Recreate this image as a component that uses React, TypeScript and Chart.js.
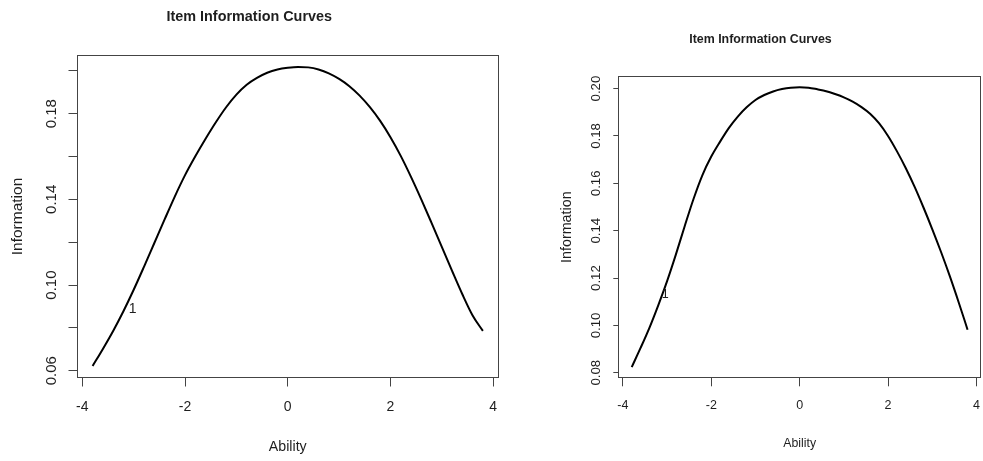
import React, { useEffect, useRef } from 'react';
import { Chart, registerables } from 'chart.js';

Chart.register(...registerables);

// ---------- data ----------
const ability = [
  -3.8, -3.6, -3.4, -3.2, -3.0, -2.8, -2.6, -2.4, -2.2, -2.0, -1.8, -1.6, -1.4,
  -1.2, -1.0, -0.8, -0.6, -0.4, -0.2, 0.0, 0.2, 0.4, 0.6, 0.8, 1.0, 1.2, 1.4,
  1.6, 1.8, 2.0, 2.2, 2.4, 2.6, 2.8, 3.0, 3.2, 3.4, 3.6, 3.8,
];

const informationLeft = [
  0.0622, 0.0702, 0.0786, 0.0878, 0.0978, 0.1085, 0.1195, 0.1305, 0.1413,
  0.1513, 0.1601, 0.1683, 0.1760, 0.1830, 0.1889, 0.1935, 0.1967, 0.1991,
  0.2006, 0.2014, 0.2018, 0.2016, 0.2006, 0.1988, 0.1962, 0.1928, 0.1884,
  0.1830, 0.1766, 0.1690, 0.1603, 0.1505, 0.1400, 0.1290, 0.1178, 0.1066,
  0.0957, 0.0858, 0.0786,
];

const informationRight = [
  0.0824, 0.0905, 0.0990, 0.1085, 0.1187, 0.1300, 0.1420, 0.1535, 0.1635,
  0.1713, 0.1776, 0.1834, 0.1882, 0.1921, 0.1952, 0.1973, 0.1988, 0.1998,
  0.2004, 0.2006, 0.2004, 0.1997, 0.1989, 0.1977, 0.1963, 0.1945, 0.1922,
  0.1893, 0.1853, 0.1800, 0.1736, 0.1665, 0.1586, 0.1499, 0.1407, 0.1310,
  0.1207, 0.1097, 0.0982,
];

const xTickValues = [-4, -2, 0, 2, 4];
const xTickLabels = ['-4', '-2', '0', '2', '4'];

const yTickValuesLeft = [0.06, 0.08, 0.1, 0.12, 0.14, 0.16, 0.18, 0.2];
const yTickLabelsLeft = ['0.06', '', '0.10', '', '0.14', '', '0.18', ''];

const yTickValuesRight = [0.08, 0.1, 0.12, 0.14, 0.16, 0.18, 0.2];
const yTickLabelsRight = ['0.08', '0.10', '0.12', '0.14', '0.16', '0.18', '0.20'];

const chartTitle = 'Item Information Curves';
const xAxisTitle = 'Ability';
const yAxisTitle = 'Information';

const itemNames = ['1'];
const itemLabelAnchorLeft = [-3.02, 0.0888];
const itemLabelAnchorRight = [-3.04, 0.1131];

// ---------- style ----------
const FONT = '"Liberation Sans", Arial, sans-serif';
const TEXT = '#1e1e1e';
const AXIS = '#444444';

const boxPlugin = {
  id: 'rbox',
  afterDraw(chart: any) {
    const { ctx, chartArea: a } = chart;
    ctx.save();
    ctx.strokeStyle = AXIS;
    ctx.lineWidth = 1;
    const l = Math.round(a.left) + 0.5;
    const t = Math.round(a.top) + 0.5;
    const r = Math.round(a.right) - 0.5;
    const b = Math.round(a.bottom) - 0.5;
    ctx.strokeRect(l, t, r - l, b - t);
    ctx.restore();
  },
};

const itemLabelPlugin = {
  id: 'itemLabel',
  afterDatasetsDraw(chart: any, _args: any, opts: any) {
    if (!opts || !opts.text) return;
    const { ctx, scales } = chart;
    const px = scales.x.getPixelForValue(opts.x);
    const py = scales.y.getPixelForValue(opts.y);
    ctx.save();
    ctx.fillStyle = opts.color;
    ctx.font = `${opts.size}px ${FONT}`;
    ctx.textAlign = 'center';
    ctx.textBaseline = 'middle';
    ctx.fillText(opts.text, px, py);
    ctx.restore();
  },
};

type Spec = {
  values: number[];
  yTicks: number[];
  yLabels: string[];
  anchor: number[];
  padRight: number;
  yAxisWidth: number;
  xAxisHeight: number;
  titleSize: number;
  titlePadTop: number;
  titlePadBottom: number;
  yTickSize: number;
  yTickLen: number;
  yTickPad: number;
  xTickSize: number;
  xTickLen: number;
  xTickPad: number;
  xTitleSize: number;
  xTitlePadBottom: number;
  yTitleSize: number;
  yTitlePadTop: number;
  labelSize: number;
};

function buildConfig(p: Spec): any {
  const xMin = Math.min(...ability);
  const xMax = Math.max(...ability);
  const yMin = Math.min(...p.values);
  const yMax = Math.max(...p.values);
  const xPad = (xMax - xMin) * 0.04;
  const yPad = (yMax - yMin) * 0.04;
  return {
    type: 'line',
    data: {
      datasets: [
        {
          data: ability.map((x, i) => ({ x, y: p.values[i] })),
          borderColor: '#000',
          borderWidth: 2,
          pointRadius: 0,
          fill: false,
          cubicInterpolationMode: 'monotone',
        },
      ],
    },
    options: {
      animation: false,
      responsive: false,
      events: [],
      layout: { padding: { left: 0, right: p.padRight, top: 0, bottom: 0 } },
      plugins: {
        legend: { display: false },
        tooltip: { enabled: false },
        title: {
          display: true,
          text: chartTitle,
          color: TEXT,
          font: { family: FONT, size: p.titleSize, weight: 'bold' },
          padding: { top: p.titlePadTop, bottom: p.titlePadBottom },
        },
        itemLabel: {
          text: itemNames[0],
          x: p.anchor[0],
          y: p.anchor[1],
          size: p.labelSize,
          color: TEXT,
        },
      },
      scales: {
        x: {
          type: 'linear',
          position: 'bottom',
          min: xMin - xPad,
          max: xMax + xPad,
          afterBuildTicks: (s: any) => {
            s.ticks = xTickValues.map((v) => ({ value: v }));
          },
          afterFit: (s: any) => {
            s.height = p.xAxisHeight;
          },
          grid: {
            drawOnChartArea: false,
            drawTicks: true,
            tickLength: p.xTickLen,
            color: AXIS,
            lineWidth: 1,
          },
          border: { display: false },
          ticks: {
            autoSkip: false,
            maxRotation: 0,
            minRotation: 0,
            padding: p.xTickPad,
            color: TEXT,
            font: { family: FONT, size: p.xTickSize },
            callback: (v: number) => {
              const i = xTickValues.indexOf(v);
              return i >= 0 ? xTickLabels[i] : '';
            },
          },
          title: {
            display: true,
            text: xAxisTitle,
            color: TEXT,
            font: { family: FONT, size: p.xTitleSize },
            padding: { top: 0, bottom: p.xTitlePadBottom },
          },
        },
        y: {
          type: 'linear',
          position: 'left',
          min: yMin - yPad,
          max: yMax + yPad,
          afterBuildTicks: (s: any) => {
            s.ticks = p.yTicks.map((v) => ({ value: v }));
          },
          afterFit: (s: any) => {
            s.width = p.yAxisWidth;
          },
          grid: {
            drawOnChartArea: false,
            drawTicks: true,
            tickLength: p.yTickLen,
            color: AXIS,
            lineWidth: 1,
          },
          border: { display: false },
          ticks: {
            autoSkip: false,
            minRotation: 90,
            maxRotation: 90,
            crossAlign: 'center',
            padding: p.yTickPad,
            color: TEXT,
            font: { family: FONT, size: p.yTickSize },
            callback: (_v: number, i: number) => p.yLabels[i] ?? '',
          },
          title: {
            display: true,
            text: yAxisTitle,
            color: TEXT,
            font: { family: FONT, size: p.yTitleSize },
            padding: { top: p.yTitlePadTop, bottom: 0 },
          },
        },
      },
    },
    plugins: [boxPlugin, itemLabelPlugin],
  };
}

const leftSpec: Spec = {
  values: informationLeft,
  yTicks: yTickValuesLeft,
  yLabels: yTickLabelsLeft,
  anchor: itemLabelAnchorLeft,
  padRight: 76.5,
  yAxisWidth: 77,
  xAxisHeight: 83,
  titleSize: 14.4,
  titlePadTop: 8.6,
  titlePadBottom: 29.1,
  yTickSize: 15,
  yTickLen: 8.5,
  yTickPad: 1.9,
  xTickSize: 14,
  xTickLen: 8.5,
  xTickPad: 12.1,
  xTitleSize: 14.2,
  xTitlePadBottom: 5.5,
  yTitleSize: 15.5,
  yTitlePadTop: 8.5,
  labelSize: 14,
};

const rightSpec: Spec = {
  values: informationRight,
  yTicks: yTickValuesRight,
  yLabels: yTickLabelsRight,
  anchor: itemLabelAnchorRight,
  padRight: 78,
  yAxisWidth: 78.3,
  xAxisHeight: 82.7,
  titleSize: 12.4,
  titlePadTop: 32.6,
  titlePadBottom: 28.5,
  yTickSize: 13.2,
  yTickLen: 5,
  yTickPad: 4.4,
  xTickSize: 12.5,
  xTickLen: 8,
  xTickPad: 11.9,
  xTitleSize: 12.3,
  xTitlePadBottom: 10.3,
  yTitleSize: 14.3,
  yTitlePadTop: 18.1,
  labelSize: 12.5,
};

function Panel({ spec, left, width }: { spec: Spec; left: number; width: number }) {
  const ref = useRef<HTMLCanvasElement | null>(null);
  useEffect(() => {
    if (!ref.current) return;
    const chart = new Chart(ref.current, buildConfig(spec));
    return () => chart.destroy();
  }, [spec]);
  return (
    <canvas
      ref={ref}
      width={width}
      height={461}
      style={{ position: 'absolute', left, top: 0, width, height: 461 }}
    />
  );
}

export default function App() {
  return (
    <div
      style={{
        position: 'absolute',
        left: 0,
        top: 0,
        width: 983,
        height: 461,
        overflow: 'hidden',
        background: '#fff',
      }}
    >
      <Panel spec={leftSpec} left={0} width={575} />
      <Panel spec={rightSpec} left={540} width={519} />
    </div>
  );
}
